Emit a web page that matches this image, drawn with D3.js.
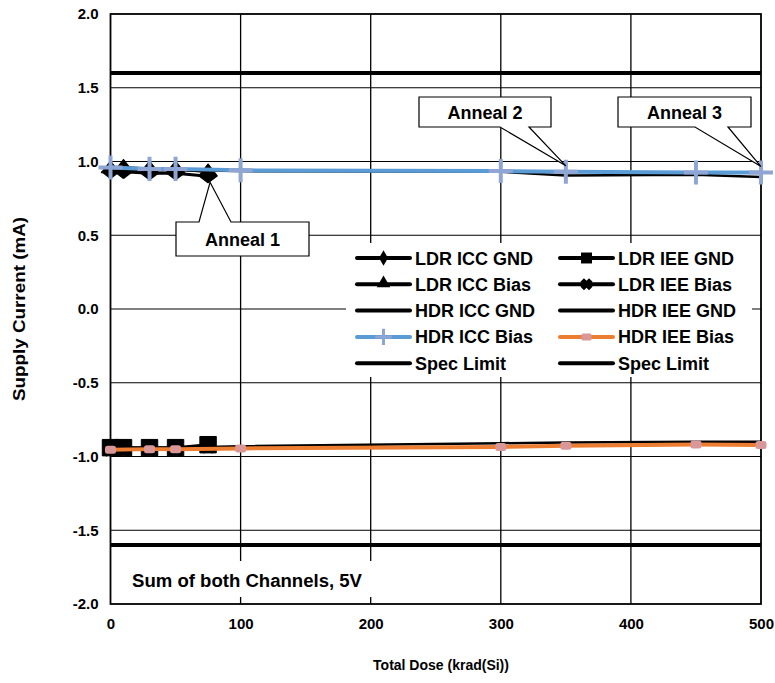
<!DOCTYPE html>
<html><head><meta charset="utf-8">
<script src="https://cdn.jsdelivr.net/npm/d3@7"></script>
<style>body{margin:0;background:#fff}svg{display:block}text{font-family:"Liberation Sans",Arial,sans-serif;font-weight:bold;fill:#000}</style>
</head><body><svg id="c" width="775" height="683"></svg>
<script>
const ldrDose = [0, 10, 30, 50, 75];
const ldrIccGnd = [0.93, 0.93, 0.92, 0.92, 0.90];
const ldrIccBias = [0.95, 0.96, 0.95, 0.95, 0.93];
const ldrIeeGnd = [-0.94, -0.94, -0.94, -0.94, -0.92];
const ldrIeeBias = [-0.95, -0.95, -0.95, -0.95, -0.93];
const hdrDose = [0, 30, 50, 100, 300, 350, 450, 500];
const hdrIccGnd = [0.94, 0.94, 0.94, 0.935, 0.93, 0.905, 0.91, 0.895];
const hdrIccBias = [0.96, 0.95, 0.95, 0.94, 0.935, 0.93, 0.925, 0.925];
const hdrIeeGnd = [-0.94, -0.94, -0.94, -0.93, -0.91, -0.905, -0.90, -0.90];
const hdrIeeBias = [-0.955, -0.95, -0.95, -0.945, -0.935, -0.927, -0.918, -0.922];
const specDose = [0, 500];
const specHigh = [1.6, 1.6];
const specLow = [-1.6, -1.6];
const xTicks = [0, 100, 200, 300, 400, 500];
const yTicks = [-2.0, -1.5, -1.0, -0.5, 0.0, 0.5, 1.0, 1.5, 2.0];
const legendLabels = ["LDR ICC GND","LDR IEE GND","LDR ICC Bias","LDR IEE Bias","HDR ICC GND","HDR IEE GND","HDR ICC Bias","HDR IEE Bias","Spec Limit","Spec Limit"];
const annotations = [
  {text:"Anneal 1", dose:75, val:0.90},
  {text:"Anneal 2", dose:350, val:0.93},
  {text:"Anneal 3", dose:500, val:0.925}
];

const svg = d3.select("#c");
const L=110.5, R=761, T=14, B=604;
const x = d3.scaleLinear().domain([0,500]).range([L,R]);
const y = d3.scaleLinear().domain([-2,2]).range([B,T]);

// gridlines
const g = svg.append("g");
g.selectAll(".vg").data(xTicks.slice(1,-1)).join("line")
 .attr("x1",d=>x(d)).attr("x2",d=>x(d)).attr("y1",T).attr("y2",B).attr("stroke","#000").attr("stroke-width",1.3);
g.selectAll(".hg").data(yTicks.slice(1,-1)).join("line")
 .attr("y1",d=>y(d)).attr("y2",d=>y(d)).attr("x1",L).attr("x2",R).attr("stroke","#000").attr("stroke-width",1);

// axes
const xAxis = d3.axisBottom(x).tickValues(xTicks).tickSize(0).tickPadding(14).tickFormat(d=>String(d));
const yAxis = d3.axisLeft(y).tickValues(yTicks).tickSize(0).tickPadding(12).tickFormat(d=>d.toFixed(1));
const gx = svg.append("g").attr("transform",`translate(0,${B})`).call(xAxis);
const gy = svg.append("g").attr("transform",`translate(${L},0)`).call(yAxis);
[gx,gy].forEach(a=>{a.select(".domain").remove();a.selectAll("text").style("font-size","15px").style("font-family","Liberation Sans, Arial, sans-serif").style("font-weight","bold");});
svg.append("rect").attr("x",L).attr("y",T).attr("width",R-L).attr("height",B-T).attr("fill","none").attr("stroke","#000").attr("stroke-width",1.8);

// spec limits
const line = (xs, ys) => d3.line().x((d,i)=>x(xs[i])).y(d=>y(d))(ys);
svg.append("path").attr("d",line(specDose,specHigh)).attr("stroke","#000").attr("stroke-width",4).attr("fill","none");
svg.append("path").attr("d",line(specDose,specLow)).attr("stroke","#000").attr("stroke-width",4).attr("fill","none");

// "Sum" label box
svg.append("rect").attr("x",122).attr("y",561).attr("width",254).attr("height",36).attr("fill","#fff");
svg.append("text").attr("x",132).attr("y",587).style("font-size","18px").attr("textLength",230).attr("lengthAdjust","spacingAndGlyphs").text("Sum of both Channels, 5V");

// HDR GND lines
svg.append("path").attr("d",line(hdrDose,hdrIccGnd)).attr("stroke","#000").attr("stroke-width",2.5).attr("fill","none");
svg.append("path").attr("d",line(hdrDose,hdrIeeGnd)).attr("stroke","#000").attr("stroke-width",2.5).attr("fill","none");

// LDR series
function ldr(vals, sym, size, filled, sx, sy){
  svg.append("path").attr("d",line(ldrDose,vals)).attr("stroke","#000").attr("stroke-width",3).attr("fill","none");
  svg.append("g").selectAll("path").data(vals).join("path")
   .attr("transform",(d,i)=>`translate(${x(ldrDose[i])},${y(d)}) scale(${sx||1},${sy||1})`)
   .attr("d",d3.symbol().type(sym).size(size))
   .attr("fill",filled?"#000":"none").attr("stroke","#000").attr("stroke-width",filled?1:5).attr("stroke-linejoin","round");
}
ldr(ldrIccGnd, d3.symbolDiamond, 90, true, 1.7, 0.75);
ldr(ldrIccBias, d3.symbolTriangle, 100, true, 1.2, 0.9);
ldr(ldrIeeGnd, d3.symbolSquare, 270, true);
ldr(ldrIeeBias, d3.symbolX, 90, false);

// HDR bias lines
svg.append("path").attr("d",line(hdrDose,hdrIccBias)).attr("stroke","#5b9bd5").attr("stroke-width",4).attr("fill","none");
svg.append("g").selectAll("path").data(hdrIccBias).join("path")
 .attr("transform",(d,i)=>`translate(${x(hdrDose[i])},${y(d)})`)
 .attr("d",d3.symbol().type(d3.symbolPlus).size(190)).attr("fill","none").attr("stroke","#8fa5d4").attr("stroke-width",4);
svg.append("path").attr("d",line(hdrDose,hdrIeeBias)).attr("stroke","#ed7d31").attr("stroke-width",4).attr("fill","none");
svg.append("g").selectAll("rect").data(hdrIeeBias).join("rect")
 .attr("x",(d,i)=>x(hdrDose[i])-5.5).attr("y",d=>y(d)-4).attr("width",11).attr("height",8).attr("rx",2.5)
 .attr("fill","#d9979a");

// annotations (callouts)
const boxes = [
  {x:176,y:222,w:133,h:34,base:[199,231],side:"top"},
  {x:419,y:97,w:132,h:30,base:[500,529],side:"bottom"},
  {x:618,y:97,w:133,h:30,base:[695,728],side:"bottom"}
];
annotations.forEach((a,i)=>{
  const b=boxes[i];
  const tx=x(a.dose)+(i==0?2:0), ty=y(a.val)+(i==0?6:-6);
  const ey = b.side=="top"?b.y:b.y+b.h;
  let pts;
  if(b.side=="top") pts=[[b.x,b.y],[b.base[0],b.y],[tx,ty],[b.base[1],b.y],[b.x+b.w,b.y],[b.x+b.w,b.y+b.h],[b.x,b.y+b.h]];
  else pts=[[b.x,b.y],[b.x+b.w,b.y],[b.x+b.w,b.y+b.h],[b.base[1],ey],[tx,ty],[b.base[0],ey],[b.x,b.y+b.h]];
  svg.append("path").attr("d",d3.line()(pts)+"Z").attr("fill","#fff").attr("stroke","#000").attr("stroke-width",1.2);
  svg.append("text").attr("x",b.x+b.w/2).attr("y",b.y+b.h/2+6.5).attr("text-anchor","middle").style("font-size","18px").text(a.text);
});

// legend
svg.append("rect").attr("x",346).attr("y",243).attr("width",406).attr("height",134).attr("fill","#fff");
const legItems = [
  {t:"diamond"},{t:"square"},{t:"triangle"},{t:"x"},{t:"none"},{t:"none"},{t:"plus"},{t:"pink"},{t:"spec"},{t:"spec"}
];
legendLabels.forEach((lab,i)=>{
  const col=i%2, row=Math.floor(i/2);
  const lx = col==0?357:560, ly = 258+row*26.3;
  const it = legItems[i];
  const gg = svg.append("g");
  let color="#000", sw=4;
  if(it.t=="plus"){color="#5b9bd5";}
  if(it.t=="pink"){color="#ed7d31";}
  gg.append("line").attr("x1",lx).attr("x2",lx+53).attr("y1",ly).attr("y2",ly).attr("stroke",color).attr("stroke-width",sw).attr("stroke-linecap","round");
  const cx=lx+26.5;
  if(it.t=="diamond") gg.append("path").attr("transform",`translate(${cx},${ly})`).attr("d",d3.symbol().type(d3.symbolDiamond).size(70)).attr("fill","#000");
  if(it.t=="triangle") gg.append("path").attr("transform",`translate(${cx},${ly-1})`).attr("d",d3.symbol().type(d3.symbolTriangle).size(80)).attr("fill","#000");
  if(it.t=="square") gg.append("path").attr("transform",`translate(${cx},${ly})`).attr("d",d3.symbol().type(d3.symbolSquare).size(120)).attr("fill","#000");
  if(it.t=="x") gg.append("path").attr("transform",`translate(${cx},${ly})`).attr("d",d3.symbol().type(d3.symbolX).size(50)).attr("fill","none").attr("stroke","#000").attr("stroke-width",5);
  if(it.t=="plus") gg.append("path").attr("transform",`translate(${cx},${ly})`).attr("d",d3.symbol().type(d3.symbolPlus).size(90)).attr("fill","none").attr("stroke","#8fa5d4").attr("stroke-width",3);
  if(it.t=="pink") gg.append("rect").attr("x",cx-5).attr("y",ly-3.5).attr("width",10).attr("height",7).attr("rx",1.5).attr("fill","#d9979a");
  gg.append("text").attr("x",lx+58).attr("y",ly+6.5).style("font-size","18px").text(lab);
});

// axis titles
svg.append("text").attr("x",441).attr("y",670).attr("text-anchor","middle").style("font-size","14px").text("Total Dose (krad(Si))");
svg.append("text").attr("transform","translate(25,309) rotate(-90)").attr("text-anchor","middle").style("font-size","16px").attr("textLength",184).attr("lengthAdjust","spacingAndGlyphs").text("Supply Current (mA)");
</script></body></html>
